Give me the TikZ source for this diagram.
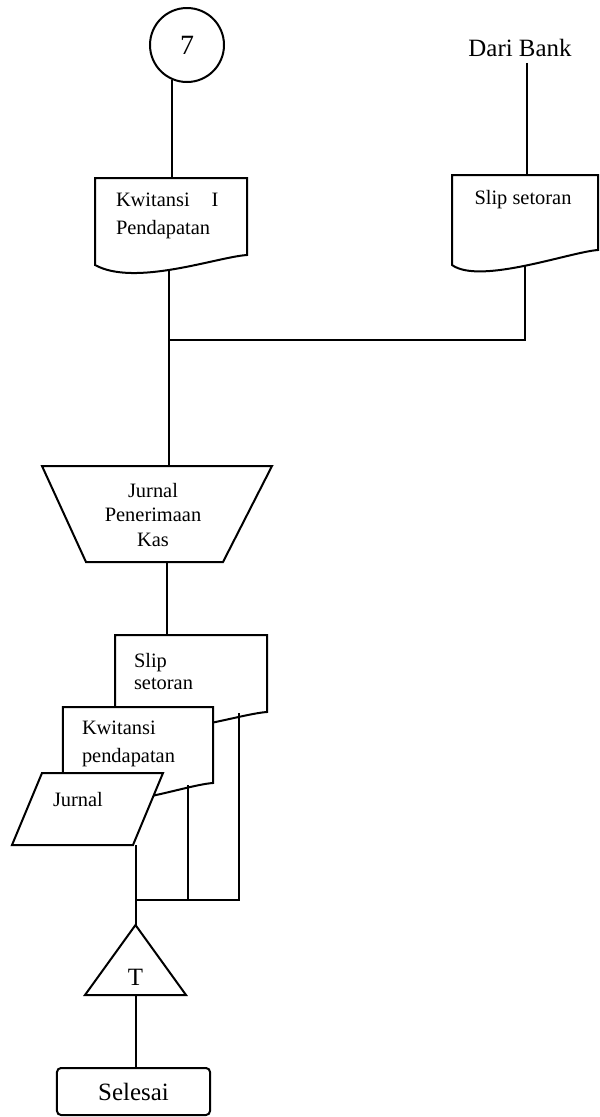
\documentclass[tikz,border=0pt]{standalone}
\usepackage{fontspec}
\setmainfont{Liberation Serif}
\begin{document}
\begin{tikzpicture}[x=1bp,y=-1bp, line width=2bp,
  box/.style={draw=none, rectangle, inner sep=0pt, outer sep=0pt},
  big/.style={font=\fontsize{25}{30}\selectfont, inner sep=0pt},
  sm/.style={font=\fontsize{20.5}{28}\selectfont, inner sep=0pt},
  docfill/.style={fill=white}]
\path[use as bounding box] (0,0) rectangle (600,1117);

% top connector and source
\node[draw, circle, minimum size=74bp, inner sep=0pt, font=\fontsize{28}{32}\selectfont] (c7) at (187,45) {7};
\node[big] (bank) at (520,48) {Dari Bank};

% Kwitansi I Pendapatan document
\node[box, minimum width=152bp, minimum height=87bp] (k1) at (171,221.5) {};
\draw (k1.north west) -- (k1.north east) -- ([yshift=10bp]k1.south east)
  .. controls +(-30,2) and +(40,22) .. (k1.south west) -- cycle;
\node[sm, anchor=west, align=left] (k1t) at (115,216) {Kwitansi\hspace{22bp}I\\Pendapatan};

% Slip setoran document (top right)
\node[box, minimum width=146bp, minimum height=90bp] (s1) at (525,220) {};
\draw (s1.north west) -- (s1.north east) -- ([yshift=15bp]s1.south east)
  .. controls +(-28,2) and +(28,20) .. (s1.south west) -- cycle;
\node[sm] (s1t) at (523,200) {Slip setoran};

% connectors top
\draw (c7.-114) -- (c7.-114 |- k1.north);
\draw ([xshift=7bp,yshift=-5bp]bank.south) -- ([xshift=7bp]bank.south |- s1.north);

\coordinate (k1b) at (169,269);
\coordinate (s1b) at (525,265);
\coordinate (j1) at (169,340);

% Jurnal Penerimaan Kas (manual operation trapezoid)
\node[box, minimum width=230bp, minimum height=96bp] (jp) at (157,514) {};
\draw (jp.north west) -- (jp.north east) -- ([xshift=-49bp]jp.south east)
  -- ([xshift=44bp]jp.south west) -- cycle;
\node[font=\fontsize{20.5}{25}\selectfont, inner sep=0pt, align=center] (jpt) at (153,515) {Jurnal\\Penerimaan\\Kas};

\draw (k1b) -- (k1b |- jp.north);
\draw (s1b) |- (j1);

% stacked documents
\node[box, minimum width=152bp, minimum height=87bp] (s2) at (191,678.5) {};
\draw[docfill] (s2.north west) -- (s2.north east) -- ([yshift=10bp]s2.south east)
  .. controls +(-30,2) and +(40,22) .. (s2.south west) -- cycle;
\node[font=\fontsize{20.5}{23}\selectfont, inner sep=0pt, anchor=west, align=left] (s2t) at (133,671.5) {Slip\\setoran};

\node[box, minimum width=150bp, minimum height=88bp] (k2) at (138,751) {};
\draw[docfill] (k2.north west) -- (k2.north east) -- ([yshift=12bp]k2.south east)
  .. controls +(-30,2) and +(40,22) .. (k2.south west) -- cycle;
\node[sm, anchor=west, align=left] (k2t) at (81,744) {Kwitansi\\pendapatan};

\node[box, minimum width=151bp, minimum height=72bp] (jr) at (87.5,809) {};
\draw[docfill] ([xshift=30bp]jr.north west) -- (jr.north east) -- ([xshift=-30bp]jr.south east)
  -- (jr.south west) -- cycle;
\node[sm, anchor=west] (jrt) at (52,800) {Jurnal};

\draw ([xshift=10bp]jp.south) -- ([xshift=10bp]jp.south |- s2.north);

\coordinate (s2b) at (239,713);
\coordinate (k2b) at (188,785);
\coordinate (j2) at (135.5,900);
\draw (s2b) |- (j2);
\draw (k2b) -- (k2b |- j2);
\draw (jr.south -| j2) -- (j2);

% archive triangle
\node[box, minimum width=101bp, minimum height=70bp] (tr) at (135.5,960) {};
\draw (tr.south west) -- (tr.north) -- (tr.south east) -- cycle;
\node[big] (trt) at (135.5,977) {T};
\draw (j2) -- (tr.north);

% end terminator
\node[draw, rounded corners=4bp, minimum width=153bp, minimum height=47bp, big] (sel) at (133.5,1091.5) {Selesai};
\draw (tr.south) -- (tr.south |- sel.north);
\end{tikzpicture}
\end{document}
